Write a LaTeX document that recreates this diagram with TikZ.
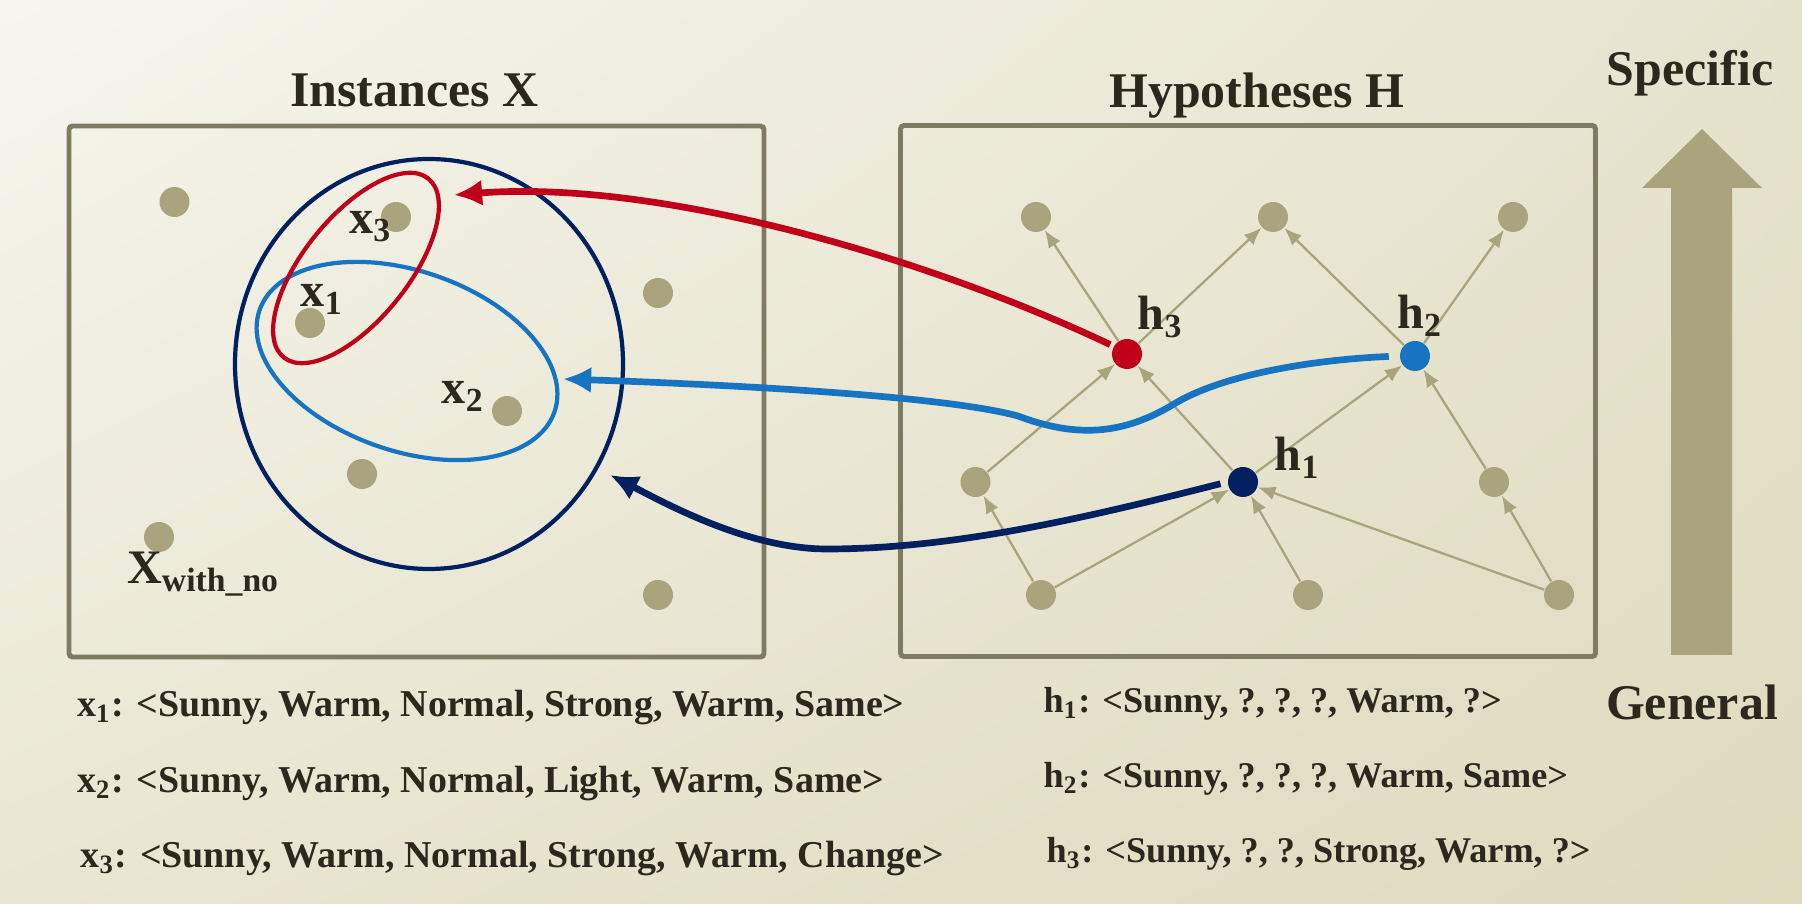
\documentclass[tikz,border=0pt]{standalone}
\usepackage{fontspec}
\setmainfont{Liberation Serif}
\usetikzlibrary{positioning,arrows.meta,shadings}

\definecolor{ink}{RGB}{45,40,30}
\definecolor{dotgray}{RGB}{170,164,126}
\definecolor{framegray}{RGB}{127,123,98}
\definecolor{hred}{RGB}{192,0,24}
\definecolor{hblue}{RGB}{22,116,194}
\definecolor{hnavy}{RGB}{0,32,96}
\definecolor{bgA}{RGB}{247,246,238}
\definecolor{bgB}{RGB}{230,227,205}
\definecolor{bgC}{RGB}{233,230,210}
\definecolor{bgD}{RGB}{223,218,190}

\begin{document}
\begin{tikzpicture}
    [every node/.style={text=ink},
    dot/.style={circle,fill=dotgray,inner sep=0pt,minimum size=0.3cm},
    box/.style={draw=framegray,line width=1.4pt,rounded corners=1pt,
      minimum width=6.95cm,minimum height=5.31cm},
    lbl/.style={font=\fontsize{13.7}{16}\selectfont\bfseries,inner sep=0pt,
      anchor=base west},
    attr/.style={font=\fontsize{10.8}{13}\selectfont\bfseries,inner sep=0pt,
      anchor=base west},
    ttl/.style={font=\fontsize{14.2}{17}\selectfont\bfseries,inner sep=0pt,
      anchor=base},
    link/.style={draw=dotgray,line width=0.65pt,-{Latex[length=5pt,width=4pt]}},
    pick/.style={line width=1.9pt,-{Latex[length=8pt,width=7.5pt]}}]
    \shade[upper left=bgA,upper right=bgB,lower left=bgC,lower right=bgD]
      (0,0) rectangle (18.02,9.04);
    \useasboundingbox (0,0) rectangle (18.02,9.04);

    % frames and titles
    \node[box] (xbox) at (4.165,5.125) {};
    \node[box] (hbox) at (12.48,5.13) {};
    \node[ttl] (tx) at (4.145,7.97) {Instances X};
    \node[ttl] (th) at (12.57,7.96) {Hypotheses H};
    \node[ttl] (spec) at (16.90,8.18) {Specific};
    \node[ttl] (gen) at (16.92,1.84) {General};
    \fill[dotgray] (17.02,7.75) -- (17.62,7.16) -- (17.32,7.16) -- (17.32,2.49)
      -- (16.71,2.49) -- (16.71,7.16) -- (16.42,7.16) -- cycle;

    % instances
    \node[dot] (p1) at (1.745,7.02) {};
    \node[dot] (x3) at (3.96,6.87) {};
    \node[dot] (p2) at (6.58,6.11) {};
    \node[dot] (x1) at (3.10,5.81) {};
    \node[dot] (x2) at (5.07,4.93) {};
    \node[dot] (p3) at (3.62,4.30) {};
    \node[dot] (xno) at (1.59,3.67) {};
    \node[dot] (p4) at (6.58,3.09) {};
    \draw[hnavy,line width=1.2pt] (4.29,5.40) ellipse [x radius=1.94,y radius=2.05];
    \draw[hblue,line width=1.2pt,shift={(4.07,5.43)},rotate=-19]
      (0,0) ellipse [x radius=1.56,y radius=0.90];
    \draw[hred,line width=1.2pt,shift={(3.56,6.36)},rotate=51]
      (0,0) ellipse [x radius=1.15,y radius=0.52];

    % hypotheses lattice
    \node[dot] (t1) at (10.36,6.87) {};
    \node[dot] (t2) at (12.73,6.87) {};
    \node[dot] (t3) at (15.13,6.87) {};
    \node[dot,fill=hred] (h3) at (11.27,5.50) {};
    \node[dot,fill=hblue] (h2) at (14.15,5.48) {};
    \node[dot] (m1) at (9.755,4.22) {};
    \node[dot,fill=hnavy] (h1) at (12.43,4.22) {};
    \node[dot] (m3) at (14.94,4.22) {};
    \node[dot] (b1) at (10.41,3.09) {};
    \node[dot] (b2) at (13.08,3.09) {};
    \node[dot] (b3) at (15.59,3.09) {};
    \draw[link] (b1) -- (m1); \draw[link] (b1) -- (h1); \draw[link] (b2) -- (h1);
    \draw[link] (b3) -- (h1); \draw[link] (b3) -- (m3);
    \draw[link] (m1) -- (h3); \draw[link] (h1) -- (h3); \draw[link] (h1) -- (h2);
    \draw[link] (m3) -- (h2);
    \draw[link] (h3) -- (t1); \draw[link] (h3) -- (t2); \draw[link] (h2) -- (t2);
    \draw[link] (h2) -- (t3);

    % hypothesis to instance set
    \coordinate (rtip) at (4.54,7.09);
    \coordinate (btip) at (5.63,5.25);
    \coordinate (ntip) at (6.10,4.29);
    \draw[pick,hred,shorten <=1pt] (h3.150) .. controls (9.3,6.45) and (6.6,7.25) .. (rtip);
    \draw[pick,hblue,shorten <=3pt] (h2.west) .. controls (13.07,5.44) and (12.2,5.28)
      .. (11.74,5.00) .. controls (11.23,4.69) and (10.76,4.66) .. (10.18,4.88)
      .. controls (9.41,5.09) and (7.13,5.20) .. (btip);
    \draw[pick,hnavy,shorten <=2pt] (h1.west) .. controls (10.93,3.88) and (9.57,3.55)
      .. (8.27,3.55) .. controls (7.47,3.55) and (6.63,4.02) .. (ntip);

    % labels
    \node[lbl] (lx3) at (3.485,6.70) {x\textsubscript{3}};
    \node[lbl] (lx1) at (3.00,5.97) {x\textsubscript{1}};
    \node[lbl] (lx2) at (4.41,5.00) {x\textsubscript{2}};
    \node[lbl] (lxno) at (1.265,3.20) {X\textsubscript{with\_no}};
    \node[lbl] (lh3) at (11.37,5.74) {h\textsubscript{3}};
    \node[lbl] (lh2) at (13.965,5.75) {h\textsubscript{2}};
    \node[lbl] (lh1) at (12.74,4.33) {h\textsubscript{1}};

    % attribute vectors
    \node[attr] (ax1) at (0.765,1.87) {x\textsubscript{1}: <Sunny, Warm, Normal, Strong, Warm, Same>};
    \node[attr] (ax2) at (0.765,1.11) {x\textsubscript{2}: <Sunny, Warm, Normal, Light, Warm, Same>};
    \node[attr] (ax3) at (0.80,0.36) {x\textsubscript{3}: <Sunny, Warm, Normal, Strong, Warm, Change>};
    \node[attr,font=\fontsize{10.3}{13}\selectfont\bfseries] (ah1) at (10.43,1.91)
      {h\textsubscript{1}: <Sunny, ?, ?, ?, Warm, ?>};
    \node[attr,font=\fontsize{10.3}{13}\selectfont\bfseries] (ah2) at (10.43,1.16)
      {h\textsubscript{2}: <Sunny, ?, ?, ?, Warm, Same>};
    \node[attr,font=\fontsize{10.3}{13}\selectfont\bfseries] (ah3) at (10.46,0.41)
      {h\textsubscript{3}: <Sunny, ?, ?, Strong, Warm, ?>};
\end{tikzpicture}
\end{document}
